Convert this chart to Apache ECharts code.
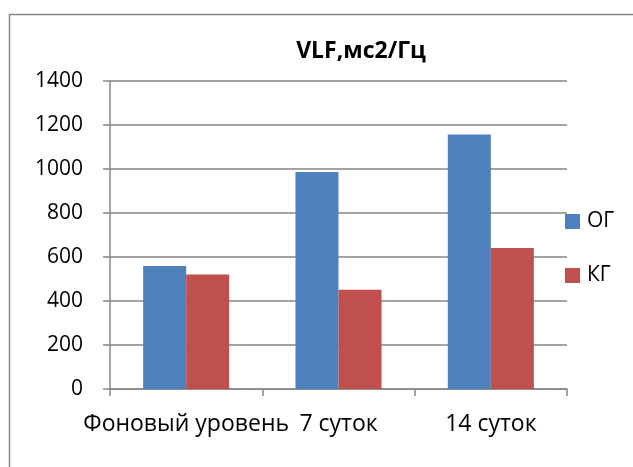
<!DOCTYPE html>
<html>
<head>
<meta charset="utf-8">
<script src="https://cdn.jsdelivr.net/npm/echarts@6/dist/echarts.min.js"></script>
<style>html,body{margin:0;padding:0;background:#fff}#c{width:633px;height:467px}</style>
</head>
<body>
<div id="c"></div>
<script>
const categories = ['Фоновый уровень', '7 суток', '14 суток'];
const seriesNames = ['ОГ', 'КГ'];
const ogValues = [559, 986, 1157];
const kgValues = [520, 451, 641];
const yTicks = [0, 200, 400, 600, 800, 1000, 1200, 1400];

const FONT = '"Open Sans", "Liberation Sans", sans-serif';
const chart = echarts.init(document.getElementById('c'), null, {renderer: 'canvas'});
chart.setOption({
  animation: false,
  backgroundColor: '#fff',
  title: {
    text: 'VLF,мс2/Гц',
    left: 361, top: 40, textAlign: 'center', padding: 0,
    textStyle: {fontFamily: FONT, fontWeight: 'bold', fontSize: 23, color: '#000'}
  },
  graphic: [{
    type: 'polyline', shape: {points: [[9.5, 467], [9.5, 14.5], [633, 14.5]]},
    style: {stroke: '#868686', lineWidth: 1.5, fill: null}, silent: true
  }],
  legend: {
    orient: 'vertical', left: 565, top: 211, padding: 0,
    itemWidth: 15, itemHeight: 15, itemGap: 33,
    icon: 'rect',
    textStyle: {fontFamily: FONT, fontSize: 21, lineHeight: 15, color: '#000', padding: [0, 0, 0, 2]},
    data: seriesNames
  },
  grid: {left: 110, right: 66, top: 81, bottom: 78, containLabel: false},
  xAxis: {
    type: 'category', data: categories,
    axisLine: {lineStyle: {color: '#868686', width: 1.5}},
    axisTick: {show: true, length: 7, inside: false, lineStyle: {color: '#868686', width: 1.5}},
    axisLabel: {fontFamily: FONT, fontSize: 23, color: '#000', margin: 24, interval: 0}
  },
  yAxis: {
    type: 'value', min: 0, max: 1400, interval: 200,
    axisLine: {show: true, lineStyle: {color: '#868686', width: 1.5}},
    axisTick: {show: true, length: 7, lineStyle: {color: '#868686', width: 1.5}},
    axisLabel: {fontFamily: FONT, fontSize: 21, color: '#000', margin: 27,
      formatter: v => yTicks.includes(v) ? String(v) : ''},
    splitLine: {show: true, lineStyle: {color: '#868686', width: 1.5}}
  },
  series: [
    {name: seriesNames[0], type: 'bar', data: ogValues, barGap: '0%', barCategoryGap: '43.5%',
     itemStyle: {color: '#4f81bd'}},
    {name: seriesNames[1], type: 'bar', data: kgValues, barGap: '0%', barCategoryGap: '43.5%',
     itemStyle: {color: '#c0504d'}}
  ]
});
</script>
</body>
</html>
